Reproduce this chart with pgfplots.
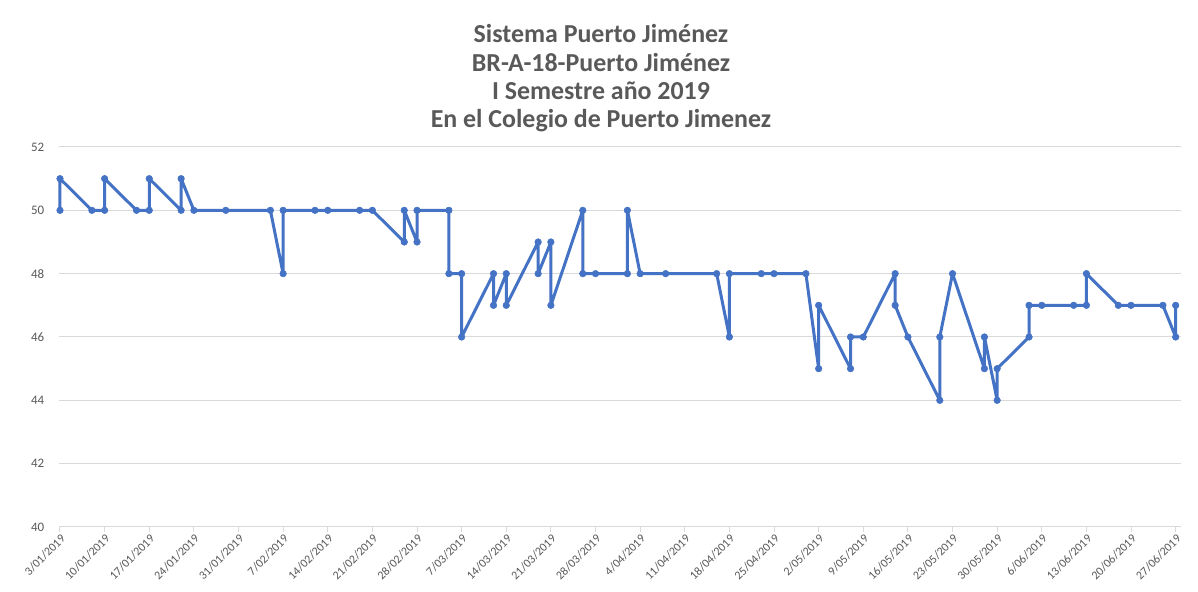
\documentclass[border=0pt]{standalone}
\usepackage{pgfplots}
\pgfplotsset{compat=1.18}
\usepackage{fontspec}
\setmainfont{Carlito}
\definecolor{lineblue}{HTML}{4472C4}
\definecolor{gridgray}{HTML}{D9D9D9}
\definecolor{txtgray}{HTML}{595959}
\begin{document}
\begin{tikzpicture}[x=1bp,y=1bp]
\path[use as bounding box, fill=white] (-60,-65) rectangle (1138,527);
\node[anchor=north, align=center, font=\fontsize{26}{28.5}\selectfont\bfseries, text=txtgray] at (541,506)
 {Sistema Puerto Jiménez\\BR-A-18-Puerto Jiménez\\I Semestre año 2019\\En el Colegio de Puerto Jimenez};
\begin{axis}[
  at={(0,0)}, anchor=origin,
  scale only axis, width=1122bp, height=380bp,
  xmin=-0.2, xmax=175.8, ymin=40, ymax=52,
  axis lines*=left,
  x axis line style={draw=gridgray, line width=1bp},
  y axis line style={draw=none},
  ytick={40,42,44,46,48,50,52},
  xtick={0,7,...,175},
  xticklabels={3/01/2019,10/01/2019,17/01/2019,24/01/2019,31/01/2019,7/02/2019,14/02/2019,21/02/2019,28/02/2019,7/03/2019,14/03/2019,21/03/2019,28/03/2019,4/04/2019,11/04/2019,18/04/2019,25/04/2019,2/05/2019,9/05/2019,16/05/2019,23/05/2019,30/05/2019,6/06/2019,13/06/2019,20/06/2019,27/06/2019},
  x tick label style={rotate=45, anchor=north east, font=\fontsize{12}{14}\selectfont, text=txtgray, inner sep=1bp},
  y tick label style={font=\fontsize{13}{15}\selectfont, text=txtgray, xshift=-6bp},
  /pgf/number format/assume math mode=true,
  ymajorgrids, grid style={draw=gridgray, line width=1bp},
  tick align=outside, major tick length=5bp,
  xtick style={draw=gridgray, line width=1bp},
  ytick style={draw=none},
  clip=false,
]
\addplot[color=lineblue, line width=3bp, mark=*, mark size=3.3bp, mark options={fill=lineblue, draw=lineblue, line width=0.5bp}, line join=round] coordinates {
(0,50) (0,51) (5,50) (7,50) (7,51) (12,50) (14,50) (14,51) (19,50) (19,51) (21,50) (26,50)
(33,50) (35,48) (35,50) (40,50) (42,50) (47,50) (49,50) (54,49) (54,50) (56,49) (56,50)
(61,50) (61,48) (63,48) (63,46) (68,48) (68,47) (70,48) (70,47) (75,49) (75,48) (77,49) (77,47)
(82,50) (82,48) (84,48) (89,48) (89,50) (91,48) (95,48) (103,48) (105,46) (105,48) (110,48)
(112,48) (117,48) (119,45) (119,47) (124,45) (124,46) (126,46) (131,48) (131,47) (133,46)
(138,44) (138,46) (140,48) (145,45) (145,46) (147,44) (147,45) (152,46) (152,47) (154,47)
(159,47) (161,47) (161,48) (166,47) (168,47) (173,47) (175,46) (175,47)
};
\end{axis}
\end{tikzpicture}
\end{document}
